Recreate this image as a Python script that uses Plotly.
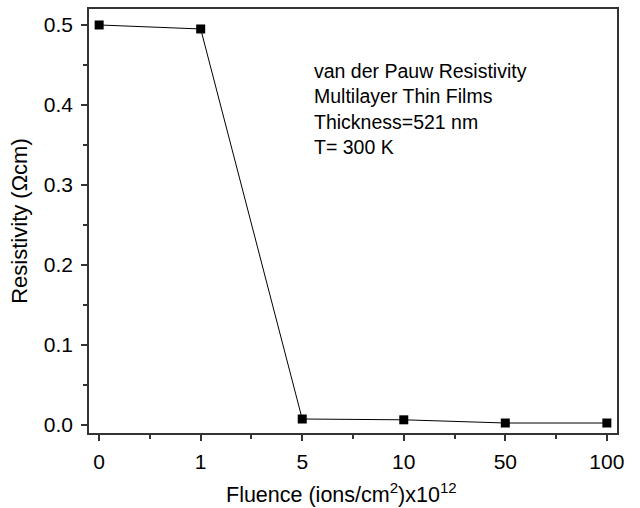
import plotly.graph_objects as go

fluence_labels = ["0", "1", "5", "10", "50", "100"]
resistivity = [0.500, 0.495, 0.007, 0.006, 0.002, 0.002]
positions = list(range(len(fluence_labels)))

annotation_lines = ["van der Pauw Resistivity", "Multilayer Thin Films", "Thickness=521 nm", "T= 300 K"]
x_title = "Fluence (ions/cm<sup>2</sup>)x10<sup>12</sup>"
y_title = "Resistivity (Ωcm)"

fig = go.Figure()
fig.add_trace(go.Scatter(
    x=positions, y=resistivity, mode="lines+markers",
    line=dict(color="black", width=1),
    marker=dict(symbol="square", size=9, color="black"),
    showlegend=False,
))

font = "Liberation Sans, Arial, sans-serif"
fig.update_layout(
    width=640, height=508,
    margin=dict(l=89, r=23, t=7, b=75),
    plot_bgcolor="white", paper_bgcolor="white",
    font=dict(family=font, size=20, color="black"),
    xaxis=dict(
        range=[-0.1, 5.1], tickmode="array", tickvals=positions, ticktext=fluence_labels,
        ticks="outside", ticklen=6, tickwidth=1.5, tickcolor="#333",
        showline=True, linecolor="#333", linewidth=1.5, mirror=True,
        showgrid=False, zeroline=False, ticklabelstandoff=3,
        minor=dict(ticks="outside", ticklen=4, tickwidth=1.5, tickcolor="#333", dtick=0.5, tick0=0, showgrid=False),
        tickfont=dict(size=21),
    ),
    yaxis=dict(
        range=[-0.0105, 0.52], tickmode="linear", tick0=0, dtick=0.1, tickformat=".1f",
        ticks="outside", ticklen=6, tickwidth=1.5, tickcolor="#333",
        showline=True, linecolor="#333", linewidth=1.5, mirror=True,
        showgrid=False, zeroline=False, ticklabelstandoff=4,
        minor=dict(ticks="outside", ticklen=4, tickwidth=1.5, tickcolor="#333", dtick=0.05, tick0=0, showgrid=False),
        title=dict(text=y_title, standoff=10, font=dict(size=22)),
        tickfont=dict(size=21),
    ),
)

fig.add_annotation(
    xref="paper", yref="paper", x=(341 - 89) / 528, y=(433 - 493) / 426,
    xanchor="center", yanchor="middle", showarrow=False,
    text=x_title, font=dict(family=font, size=21.5, color="black"),
)

fig.add_annotation(
    xref="paper", yref="paper", x=(312 - 89) / 528, y=(433 - 56) / 426,
    xanchor="left", yanchor="top", align="left", showarrow=False,
    text="<br>".join(annotation_lines),
    font=dict(family=font, size=19.5, color="black"),
)

fig.write_html("out.html")
